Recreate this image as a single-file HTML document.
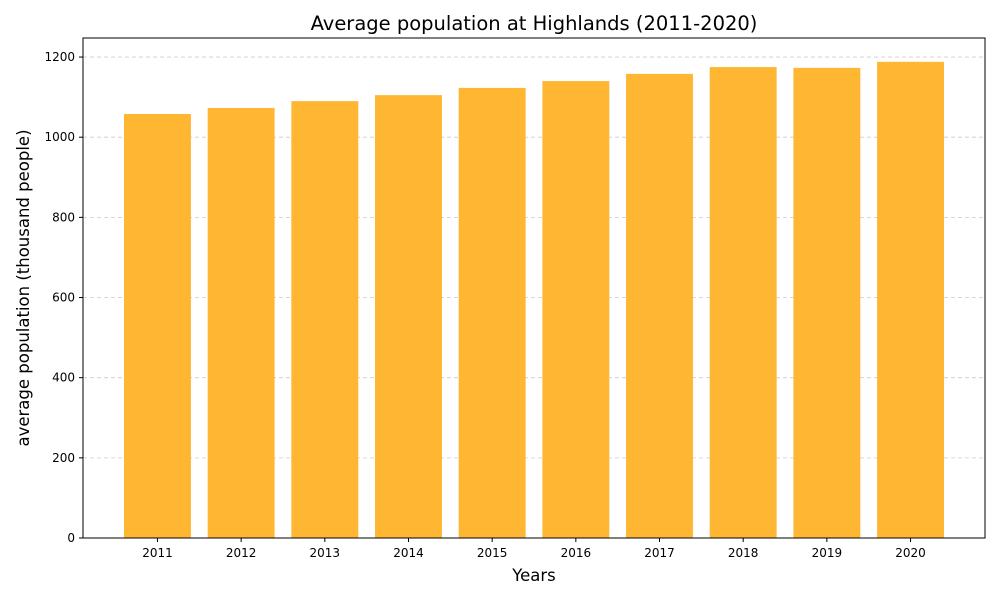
<!DOCTYPE html>
<html><head><meta charset="utf-8"><style>
body{margin:0;background:#fff;font-family:"DejaVu Sans","Liberation Sans",sans-serif}
</style></head><body>
<svg id="chart" width="1000" height="600" font-family="DejaVu Sans, Liberation Sans, sans-serif">
<text x="534" y="30" text-anchor="middle" font-size="19.5">Average population at Highlands (2011-2020)</text>
<g id="grid"></g><g id="bars"></g><g id="axes"></g>
<rect x="83" y="38" width="902" height="500" fill="none" stroke="#000" stroke-width="1"/>
<text x="534" y="581" text-anchor="middle" font-size="16.5">Years</text>
<text transform="translate(29,288) rotate(-90)" text-anchor="middle" font-size="16.5">average population (thousand people)</text>
</svg>
<script>
const categories=["2011","2012","2013","2014","2015","2016","2017","2018","2019","2020"];
const values=[1058,1073,1090,1105,1123,1140,1158,1175,1173,1188];
const yTicks=[0,200,400,600,800,1000,1200];
const NS="http://www.w3.org/2000/svg";
const L=83,R=985,T=38,B=538;
const yMax=1247.5;
const y=v=>B-(v/yMax)*(B-T);
const xMin=-0.89,xMax=categories.length-1+0.89;
const x=i=>L+(i-xMin)/(xMax-xMin)*(R-L);
const unit=(R-L)/(xMax-xMin);
function mk(t,a,p){const e=document.createElementNS(NS,t);for(const k in a)e.setAttribute(k,a[k]);p.appendChild(e);return e;}
const grid=document.getElementById('grid'),bars=document.getElementById('bars'),axes=document.getElementById('axes');
yTicks.forEach(v=>{
 const g=mk('line',{x1:L,x2:R,y1:y(v),y2:y(v),stroke:'#ccc','stroke-dasharray':'4,3','stroke-width':0.8},grid);
 
 
 const tk=mk('line',{x1:L-4,x2:L,y1:y(v),y2:y(v),stroke:'#000'},axes);
 
 
 const t=mk('text',{x:L-8,y:y(v)+4,'text-anchor':'end','font-size':12},axes);
 t.textContent=v;
 
 
});
categories.forEach((c,i)=>{
 const w=0.8*unit;
 const r=mk('rect',{x:x(i)-w/2,y:y(values[i]),width:w,height:B-y(values[i]),fill:'#FFB733'},bars);
 
 
 const tk=mk('line',{x1:x(i),x2:x(i),y1:B,y2:B+4,stroke:'#000'},axes);
 
 
 const t=mk('text',{x:x(i),y:B+19,'text-anchor':'middle','font-size':12},axes);
 t.textContent=c;
 
 
});
</script>
</body></html>
